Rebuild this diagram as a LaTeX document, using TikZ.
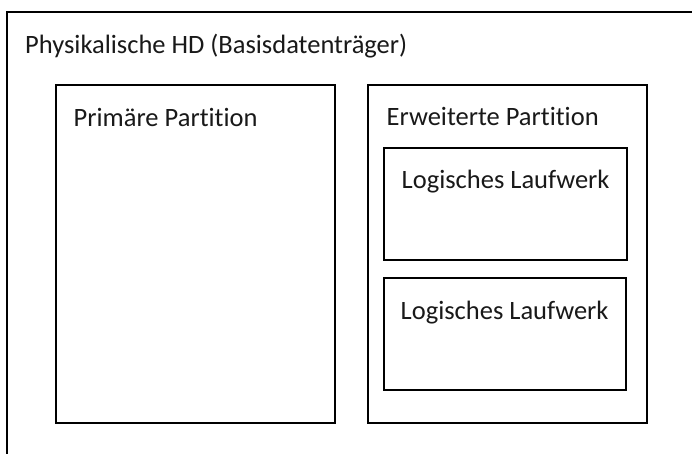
\documentclass[tikz,border=0pt]{standalone}
\usepackage{fontspec}
\setmainfont[Ligatures={NoCommon}]{Carlito}
\begin{document}
\begin{tikzpicture}[x=1pt,y=-1pt,
  box/.style={draw=black,line width=2pt,fill=none,inner sep=0pt,outer sep=0pt,anchor=north west},
  lbl/.style={anchor=base west,inner sep=0pt,font=\fontsize{26.5}{30}\selectfont,text=black!90}]
\useasboundingbox (0,0) rectangle (692,454);
\clip (0,0) rectangle (692,454);
\fill[white] (0,0) rectangle (692,454);
% outer disk
\node[box,minimum width=720pt,minimum height=470pt] (hd) at (6.5,12.5) {};
\node[lbl] (hdt) at (25,54) {Physikalische HD (Basisdatenträger)};
% primary partition
\node[box,minimum width=279.5pt,minimum height=337pt] (pp) at (55.5,85.5) {};
\node[lbl] (ppt) at (73.5,127) {Primäre Partition};
% extended partition
\node[box,minimum width=279pt,minimum height=337pt] (ep) at (368,85.5) {};
\node[lbl] (ept) at (386.5,126) {Erweiterte Partition};
% logical drives
\node[box,minimum width=243pt,minimum height=112pt] (l1) at (384,148) {};
\node[lbl] (l1t) at (401.5,189) {Logisches Laufwerk};
\node[box,minimum width=242.5pt,minimum height=111.5pt] (l2) at (383.5,278) {};
\node[lbl] (l2t) at (400.5,319) {Logisches Laufwerk};
\end{tikzpicture}
\end{document}
